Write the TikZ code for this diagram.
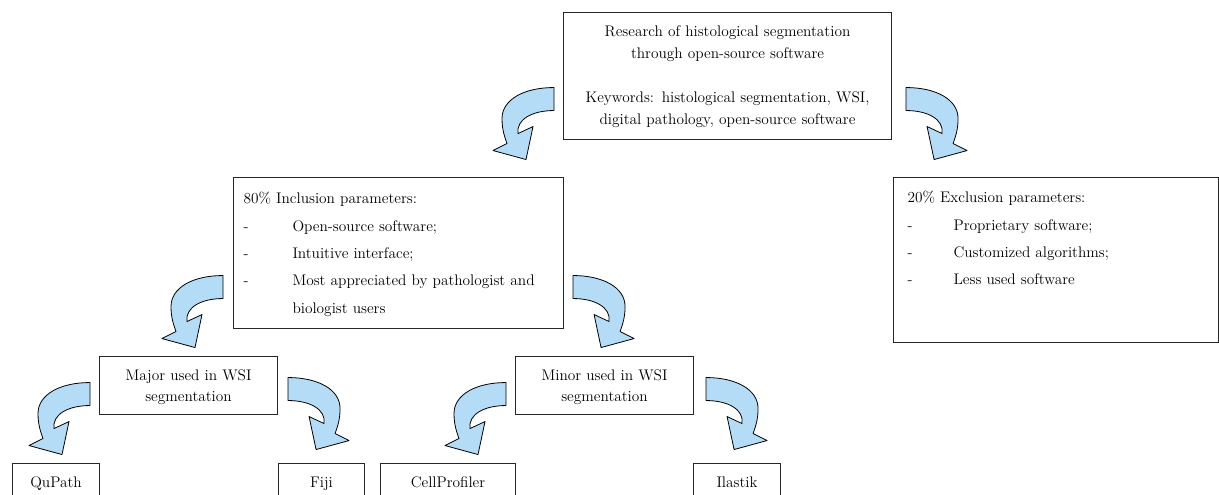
\documentclass[tikz,border=0pt]{standalone}
\usepackage{tikz}
\usetikzlibrary{calc}
\definecolor{AzulFlecha}{HTML}{B5DCF7}
\definecolor{BordeCaja}{HTML}{262626}
\newcommand{\guion}[1][36.75pt]{\makebox[#1][l]{-}}
\tikzset{
  caja/.style     = {draw=BordeCaja, line width=0.8pt, anchor=north west,
                     inner ysep=0pt, font=\fontsize{11.5}{15.75}\selectfont},
  centrada/.style = {caja, inner xsep=0pt, align=center, text height=18pt},
  lista/.style    = {caja, align=left, font=\fontsize{11.5}{20.6}\selectfont},
  hoja/.style     = {centrada, text depth=15pt},
  flechac/.style  = {draw=black, fill=AzulFlecha, line width=0.6pt,
                     line join=round},
  flechacurva/.pic = {
    \path[flechac] (0,0) .. controls (-30,0) and (-52,12) .. (-52,31)
      .. controls (-52,43) and (-49,50) .. (-47,56) -- (-61,63) -- (-28,72)
      -- (-21,39) -- (-36,46) .. controls (-38,32) and (-22,23) .. (0,23)
      -- cycle;
  },
}
\begin{document}
\begin{tikzpicture}[x=0.75pt, y=-0.75pt]
  \useasboundingbox (0,0) rectangle (1219,494);
  \clip (0,0) rectangle (1219,494);
  \node[centrada, text width=246pt, text depth=77.25pt,
        font=\fontsize{11.5}{16.5}\selectfont] (raiz) at (563,12)
    {Research of histological segmentation\\through open-source software\\[16.5pt]
     Keywords: histological segmentation, WSI,\\digital pathology, open-source software};
  \node[lista, inner xsep=7.5pt, text width=232.5pt, text height=19.5pt,
        text depth=93.75pt] (incl) at (233,177)
    {80\% Inclusion parameters:\\
     \guion Open-source software;\\
     \guion Intuitive interface;\\
     \guion Most appreciated by pathologist and\\
     \hspace*{36.75pt}biologist users};
  \node[lista, inner xsep=10.5pt, text width=222.75pt, text height=18.75pt,
        text depth=105pt] (excl) at (893,177)
    {20\% Exclusion parameters:\\
     \guion[34.5pt]Proprietary software;\\
     \guion[34.5pt]Customized algorithms;\\
     \guion[34.5pt]Less used software};
  \node[centrada, text width=133.5pt, text depth=25.5pt] (mayor) at (99,356)
    {Major used in WSI\\segmentation};
  \node[centrada, text width=133.5pt, text depth=25.5pt] (menor) at (515,356)
    {Minor used in WSI\\segmentation};
  \node[hoja, text width=65.25pt] (qupath) at (12,463) {QuPath};
  \node[hoja, text width=64.5pt] (fiji) at (278,463) {Fiji};
  \node[hoja, text width=101.25pt] (cellprof) at (380,463) {CellProfiler};
  \node[hoja, text width=65.25pt] (ilastik) at (693,463) {Ilastik};
  \pic at ($(raiz.west)+(-9,11.5)$) {flechacurva};
  \pic[xscale=-1] at ($(raiz.east)+(14,11.5)$) {flechacurva};
  \pic at ($(incl.west)+(-10,22.5)$) {flechacurva};
  \pic[xscale=-1] at ($(incl.east)+(9,22.5)$) {flechacurva};
  \pic at ($(mayor.west)+(-9,-3)$) {flechacurva};
  \pic[xscale=-1] at ($(mayor.east)+(10,-8)$) {flechacurva};
  \pic at ($(menor.west)+(-9,-3)$) {flechacurva};
  \pic[xscale=-1] at ($(menor.east)+(12,-8)$) {flechacurva};
\end{tikzpicture}
\end{document}
